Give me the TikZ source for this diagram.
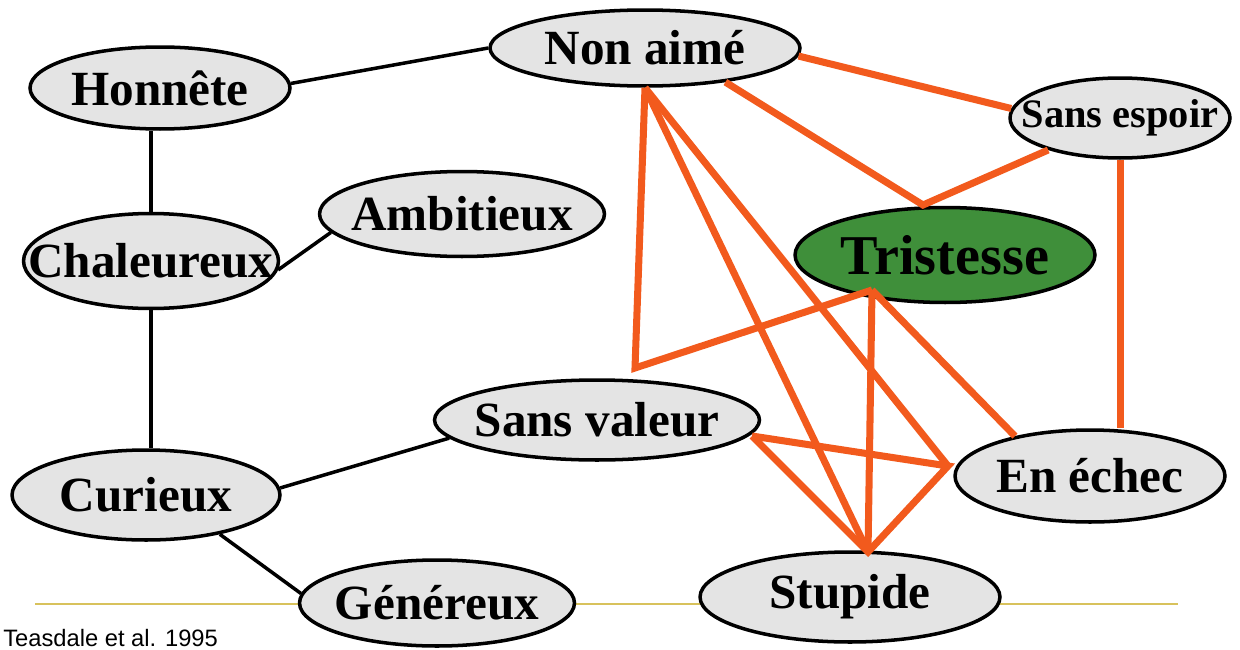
\documentclass[tikz,border=0pt]{standalone}
\usepackage{fontspec}
\setmainfont{Liberation Serif}
\newfontfamily\legende{Liberation Sans}
\usetikzlibrary{shapes.geometric}
\definecolor{gris}{HTML}{E4E4E4}
\definecolor{vert}{HTML}{3F8F3A}
\definecolor{rouille}{HTML}{F25A1D}
\definecolor{jaune}{HTML}{D8C25C}
\newcommand{\mot}[1]{\makebox[0pt]{#1}}

\begin{document}
\begin{tikzpicture}[x=0.02cm,y=-0.02cm,
    trait/.style={ellipse,draw=black,line width=2pt,fill=gris,inner sep=0pt,
      font=\bfseries\fontsize{28}{28}\selectfont},
    triste/.style={trait,fill=vert,font=\bfseries\fontsize{32}{32}\selectfont},
    lien/.style={line width=2pt},
    fort/.style={rouille,line width=4pt}]
    \useasboundingbox (0,0) rectangle (1240,649);
    \draw[jaune,line width=1.3pt] (35,604)--(1178,604);
    % les traits
    \node[trait,minimum width=5.2cm,minimum height=1.64cm] (honnete) at (160,88) {\mot{Honnête}};
    \node[trait,minimum width=6.2cm,minimum height=1.52cm] (nonaime) at (645,48) {\mot{Non aimé}};
    \node[trait,minimum width=4.4cm,minimum height=1.6cm,font=\bfseries\fontsize{23}{23}\selectfont]
      (sansespoir) at (1120,118) {\mot{Sans espoir}};
    \node[trait,minimum width=5.7cm,minimum height=1.7cm] (ambitieux) at (462,214) {\mot{Ambitieux}};
    \node[trait,minimum width=5.1cm,minimum height=1.9cm] (chaleureux) at (151,261) {\mot{Chaleureux}};
    \node[triste,minimum width=6.0cm,minimum height=1.9cm] (tristesse) at (945,255) {\mot{Tristesse}};
    \node[trait,minimum width=6.5cm,minimum height=1.6cm] (sansvaleur) at (597,420) {\mot{Sans valeur}};
    \node[trait,minimum width=5.4cm,minimum height=1.84cm] (enechec) at (1090,476) {\mot{En échec}};
    \node[trait,minimum width=5.36cm,minimum height=1.8cm] (curieux) at (146,495) {\mot{Curieux}};
    \node[trait,minimum width=5.5cm,minimum height=1.72cm] (genereux) at (437,603) {\mot{Généreux}};
    \node[trait,minimum width=6.0cm,minimum height=1.8cm] (stupide) at (850,597) {\mot{Stupide}};
    \node[anchor=base west,inner sep=0pt,font=\legende\fontsize{13.5}{13.5}\selectfont]
      (source) at (3,646) {Teasdale et al. 1995};
    % points de rencontre
    \coordinate (thaut) at (923,205);
    \coordinate (tbas) at (872,290);
    \coordinate (svhaut) at (635,368);
    \coordinate (svd) at (752,436);
    \coordinate (eeg) at (948,466);
    \coordinate (sthaut) at (868,552);
    % liens faibles
    \draw[lien] (honnete.2) -- (nonaime.west);
    \draw[lien] (chaleureux.north) -- (chaleureux.north |- honnete.south);
    \draw[lien] (chaleureux.-4) -- (ambitieux.188);
    \draw[lien] (chaleureux.south) -- (chaleureux.south |- curieux.north);
    \draw[lien] (curieux.3) -- (sansvaleur.187);
    \draw[lien] (curieux.-28) -- (genereux.176);
    % liens forts
    \draw[fort] (nonaime.-3) -- (sansespoir.175);
    \draw[fort] (nonaime.-23) -- (thaut) -- (sansespoir.204);
    \draw[fort] (nonaime.south) -- (svhaut) -- (tbas);
    \draw[fort] (nonaime.south) -- (sthaut);
    \draw[fort] (nonaime.south) -- (eeg);
    \draw[fort] (tbas) -- (sthaut);
    \draw[fort] (tbas) -- (enechec.152);
    \draw[fort] (sansespoir.south) -- (sansespoir.south |- enechec.north);
    \draw[fort] (svd) -- (eeg) -- (sthaut) -- (svd);
\end{tikzpicture}
\end{document}
